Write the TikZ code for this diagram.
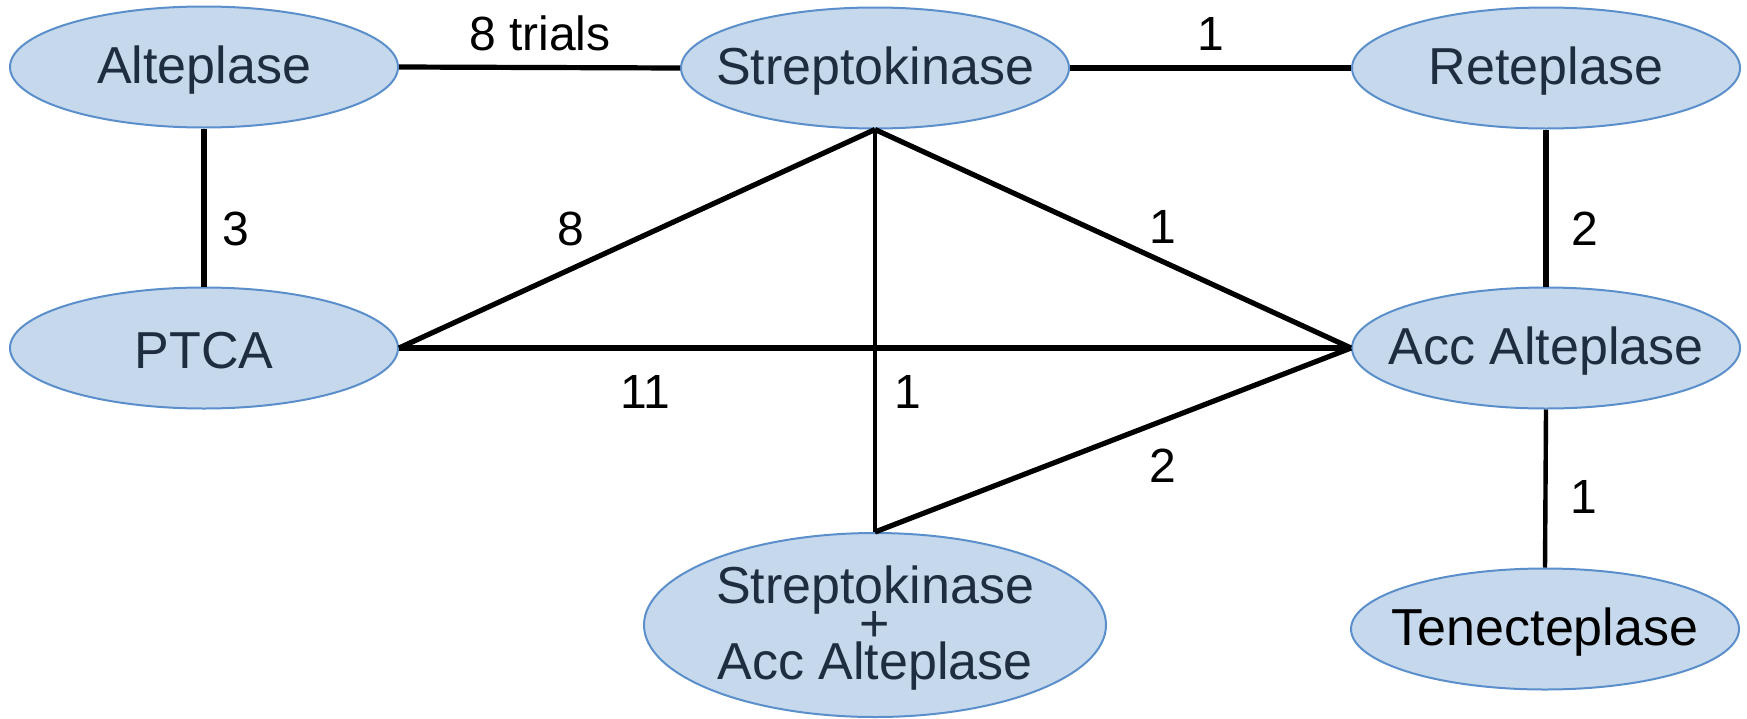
\documentclass[tikz,border=0pt]{standalone}
\usepackage{fontspec}
\setmainfont{Liberation Sans}
\usetikzlibrary{shapes.geometric}
\definecolor{nodefill}{HTML}{C6D9EC}
\definecolor{nodeline}{HTML}{5B8FCB}
\definecolor{nodetext}{HTML}{1F2D40}
\newcommand\tightlines{\fontsize{52}{38}\selectfont\lineskiplimit=-100pt\relax}
\begin{document}
\begin{tikzpicture}[x=1pt,y=-1pt,
  drug/.style={ellipse,draw=nodeline,fill=nodefill,line width=2pt,inner sep=0pt,
    minimum width=388pt,minimum height=121pt},
  drugtext/.style={text=nodetext,font=\fontsize{52}{56}\selectfont,inner sep=0pt,yshift=-3pt},
  link/.style={line width=5.2pt},
  thinlink/.style={line width=4.4pt},
  weight/.style={anchor=base,inner sep=0pt,font=\fontsize{48}{52}\selectfont}]
\useasboundingbox (0,0) rectangle (1747,718);

% treatments
\node[drug,label={[drugtext]center:Alteplase}] (alt) at (204,67) {};
\node[drug,label={[drugtext]center:Streptokinase}] (stk) at (875,68) {};
\node[drug,label={[drugtext]center:Reteplase}] (ret) at (1546,68) {};
\node[drug,label={[drugtext]center:PTCA}] (ptca) at (204,348) {};
\node[drug,label={[drugtext]center:Acc Alteplase}] (acc) at (1546,348) {};
\node[drug,minimum width=462pt,minimum height=184pt] (combo) at (875,625) {};
\node[drugtext,align=center,font=\tightlines] (combotext) at (combo.center) {Streptokinase\\+\\Acc Alteplase};
\node[drug,label={[drugtext,text=black]center:Tenecteplase}] (ten) at (1545,629) {};

% direct comparisons
\draw[link] (alt.east) -- (stk.west);
\draw[link] (stk.east) -- (ret.west);
\draw[link] (alt.south) -- (ptca.north);
\draw[link] (ret.south) -- (acc.north);
\draw[link] (stk.south) -- (ptca.east);
\draw[link] (stk.south) -- (acc.west);
\draw[link] (ptca.east) -- (acc.west);
\draw[thinlink] (stk.south) -- (combo.north);
\draw[link] (combo.north) -- (acc.west);
\draw[thinlink] (acc.south) -- (ten.north);

% number of trials
\node[weight] (w1) at (540,50) {8 trials};
\node[weight] (w2) at (1211,50) {1};
\node[weight] (w3) at (236,245) {3};
\node[weight] (w4) at (571,245) {8};
\node[weight] (w5) at (1163,243) {1};
\node[weight] (w6) at (1585,245) {2};
\node[weight] (w7) at (645,408) {11};
\node[weight] (w8) at (908,408) {1};
\node[weight] (w9) at (1163,482) {2};
\node[weight] (w10) at (1584,513) {1};
\end{tikzpicture}
\end{document}
